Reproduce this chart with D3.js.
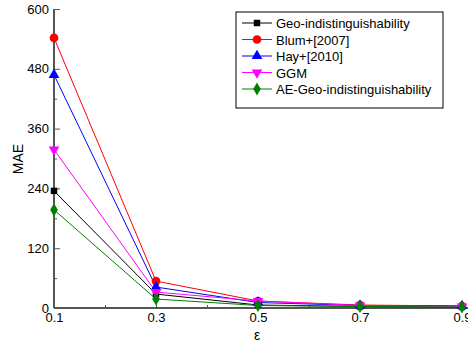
<html>
<head>
  <script src="https://d3js.org/d3.v7.min.js"></script>
  <style>
    body { margin: 0; background: #fff; font-family: "Liberation Sans", Arial, sans-serif; }
    text { font-family: "Liberation Sans", Arial, sans-serif; font-size: 13px; fill: #000; }
    .axis path, .axis line { stroke: #555; }
    .line { fill: none; stroke-width: 1px; }
  </style>
</head>
<body>
  <svg width="468" height="351"></svg>
  <script>
    var eps = [0.1, 0.3, 0.5, 0.7, 0.9];
    var names = ["Geo-indistinguishability", "Blum+[2007]", "Hay+[2010]", "GGM", "AE-Geo-indistinguishability"];
    var colors = ["#000000", "#ff0000", "#0000ff", "#ff00ff", "#008000"];
    var shapes = ["square", "circle", "triangle", "triangleDown", "diamond"];
    var geoInd  = [235, 28, 6, 3, 2];
    var blum    = [542, 54, 14, 6, 4];
    var hay     = [468, 42, 11, 5, 4];
    var ggm     = [318, 32, 14, 5, 3];
    var aeGeo   = [197, 18, 5, 3, 2];
    var series = [geoInd, blum, hay, ggm, aeGeo];
    var yTicks = [0, 120, 240, 360, 480, 600];

    var svg = d3.select("svg"),
        margin = {top: 9, left: 54},
        width = 408, height = 299,
        g = svg.append("g").attr("transform", "translate(" + margin.left + "," + margin.top + ")");

    var x = d3.scaleLinear().domain([0.1, 0.9]).range([0, width]);
    var y = d3.scaleLinear().domain([0, 600]).range([height, 0]);

    function symbolFor(s) {
      if (s == "square") return d3.symbol().type(d3.symbolSquare).size(42)();
      if (s == "circle") return d3.symbol().type(d3.symbolCircle).size(60)();
      if (s == "triangle") return d3.symbol().type(d3.symbolTriangle).size(50)();
      if (s == "triangleDown") return d3.symbol().type(d3.symbolTriangle).size(50)();
      return d3.symbol().type(d3.symbolDiamond).size(50)();
    }

    // minor ticks
    g.append("g").attr("class", "axis")
        .attr("transform", "translate(0," + height + ")")
        .call(d3.axisBottom(x).tickValues([0.2, 0.4, 0.6, 0.8]).tickSize(-3).tickFormat(""))
        .select(".domain").remove();
    g.append("g").attr("class", "axis")
        .call(d3.axisLeft(y).tickValues([60, 180, 300, 420, 540]).tickSize(-3).tickFormat(""))
        .select(".domain").remove();

    var xa = g.append("g").attr("class", "axis")
        .attr("transform", "translate(0," + height + ")")
        .call(d3.axisBottom(x).tickValues(eps).tickSize(-6).tickPadding(5).tickFormat(d3.format(".1f")));
    xa.select(".domain").attr("stroke-width", 2).attr("d", "M0,0H" + (width + 10));
    xa.selectAll(".tick line").attr("stroke-width", 1);

    var ya = g.append("g").attr("class", "axis")
        .call(d3.axisLeft(y).tickValues(yTicks).tickSize(-6).tickPadding(4));
    ya.select(".domain").attr("stroke-width", 2).attr("d", "M0," + height + "V0");
    ya.selectAll("text").attr("dx", "-1");

    svg.append("text").attr("transform", "translate(23,159) rotate(-90)")
        .attr("text-anchor", "middle").style("font-size", "14px").text("MAE");
    svg.append("text").attr("x", 257).attr("y", 340)
        .attr("text-anchor", "middle").style("font-size", "14px").text("ε");

    var line = d3.line().x(function(d, i) { return x(eps[i]); }).y(function(d) { return y(d); });

    series.forEach(function(vals, k) {
      g.append("path").datum(vals).attr("class", "line")
          .attr("stroke", colors[k]).attr("d", line);
    });
    series.forEach(function(vals, k) {
      g.selectAll(".pt" + k).data(vals).enter().append("path")
          .attr("d", symbolFor(shapes[k]))
          .attr("fill", colors[k])
          .attr("transform", function(d, i) {
            return "translate(" + x(eps[i]) + "," + y(d) + ")" + (shapes[k] == "triangleDown" ? " rotate(180)" : "");
          });
    });

    // legend
    var lg = svg.append("g").attr("transform", "translate(236,12)");
    lg.append("rect").attr("width", 207).attr("height", 96)
        .attr("fill", "#fff").attr("stroke", "#000").attr("stroke-width", 1);
    names.forEach(function(n, k) {
      var ry = 11 + k * 16.5;
      lg.append("line").attr("x1", 6).attr("x2", 36).attr("y1", ry).attr("y2", ry)
          .attr("stroke", colors[k]);
      lg.append("path").attr("d", symbolFor(shapes[k])).attr("fill", colors[k])
          .attr("transform", "translate(21," + ry + ")" + (shapes[k] == "triangleDown" ? " rotate(180)" : ""));
      lg.append("text").attr("x", 40).attr("y", ry + 5).text(n);
    });
  </script>
</body>
</html>
